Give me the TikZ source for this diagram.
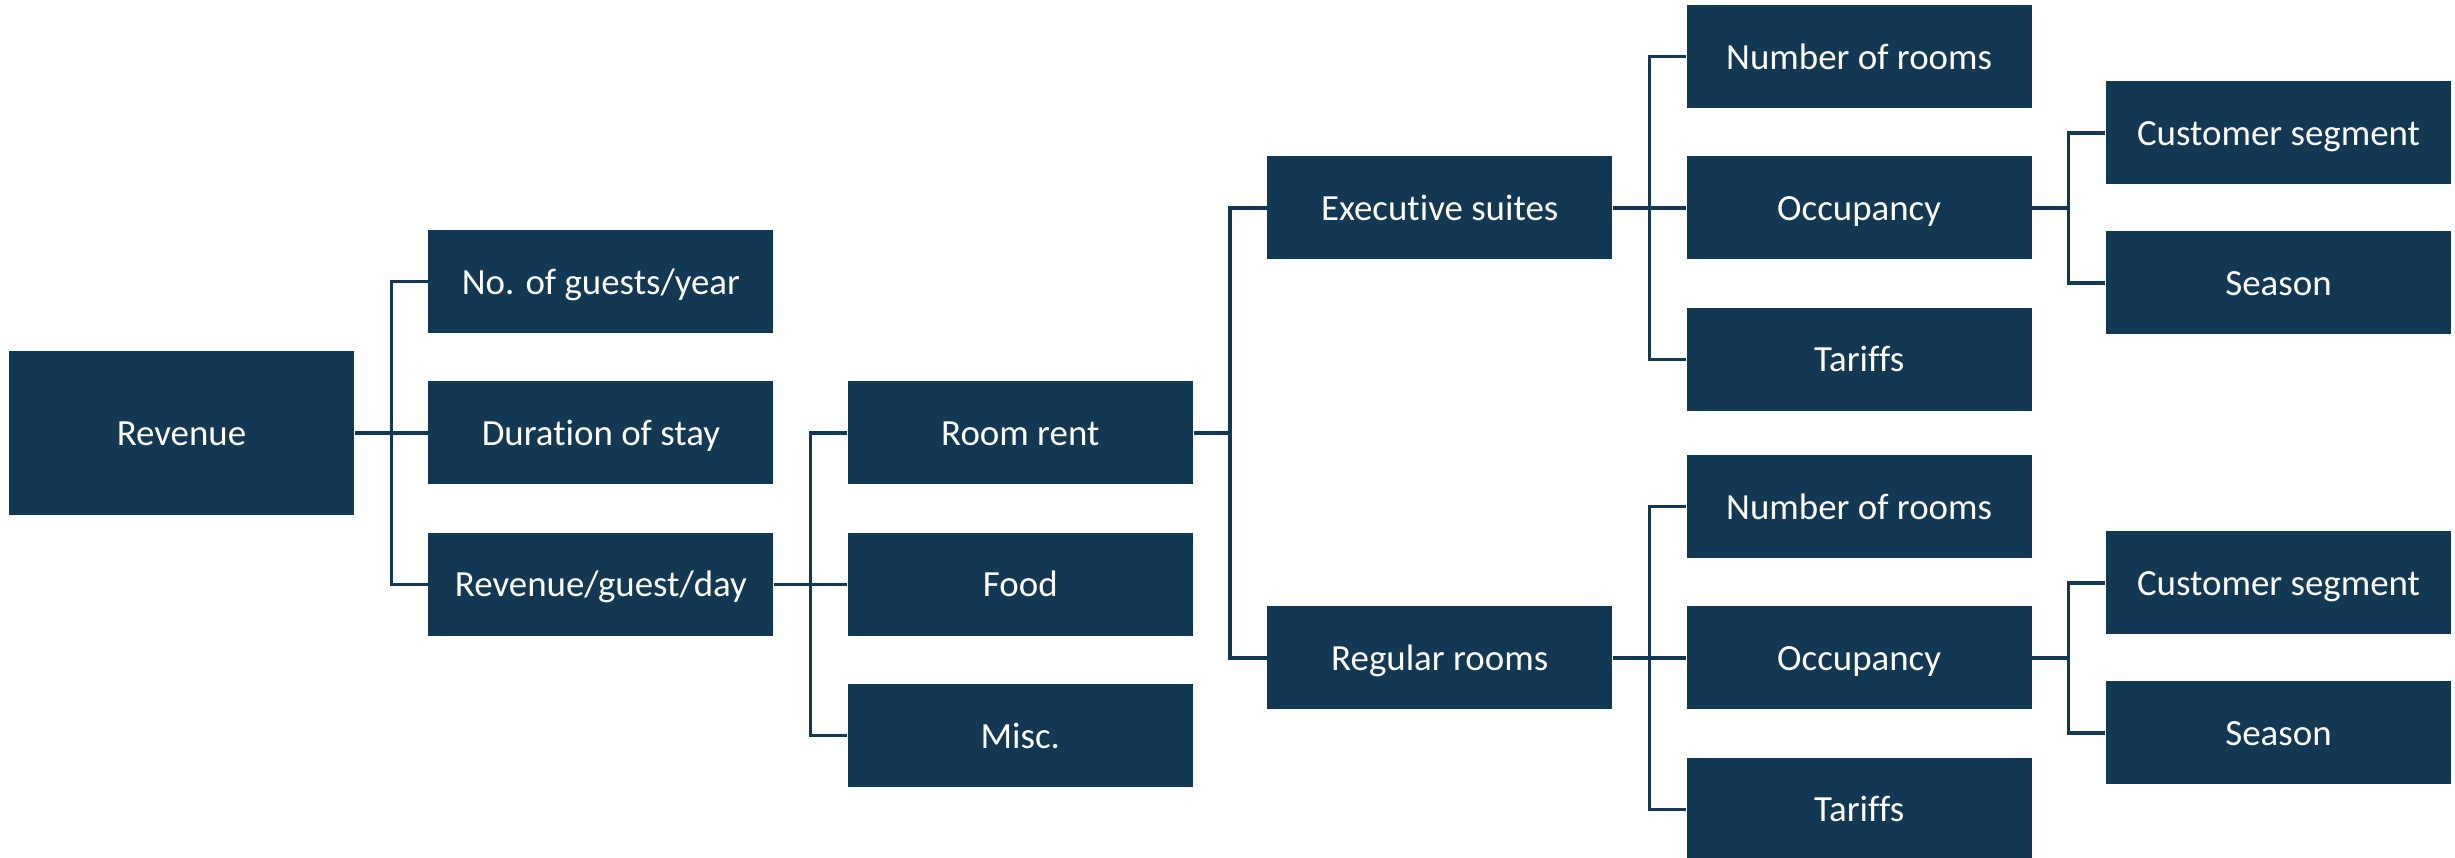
\documentclass[tikz,border=0pt]{standalone}
\usepackage{fontspec}
\setmainfont{Carlito}[Ligatures=NoCommon]
\usepackage{xcolor}
\usetikzlibrary{positioning}
\definecolor{navy}{RGB}{19,56,84}

\begin{document}
\begin{tikzpicture}[node distance=0.47cm and 0.73cm]
\tikzstyle{treebox} = [rectangle, fill=navy, text=white, minimum width=3.45cm, minimum height=1.03cm, inner sep=0pt, text height=1.75ex, text depth=0.25ex, font=\fontsize{10.5}{12}\selectfont]
\tikzstyle{elbow} = [draw=navy, line width=0.9pt]
\useasboundingbox (0,0) rectangle (24.55,-8.58);
\node (revenue) [treebox, minimum height=1.64cm] at (1.815,-4.33) {Revenue};
\node (duration) [treebox, right = of revenue] {Duration of stay};
\node (guests) [treebox, above = of duration] {No. of guests/year};
\node (rgd) [treebox, below = of duration] {Revenue/guest/day};
\node (food) [treebox, right = of rgd] {Food};
\node (rent) [treebox, above = of food] {Room rent};
\node (misc) [treebox, below = of food] {Misc.};
\node (exec) [treebox, right = of rent, yshift=2.25cm] {Executive suites};
\node (regular) [treebox, right = of rent, yshift=-2.25cm] {Regular rooms};
\node (occexec) [treebox, right = of exec] {Occupancy};
\node (numexec) [treebox, above = of occexec] {Number of rooms};
\node (tarexec) [treebox, below = of occexec] {Tariffs};
\node (occreg) [treebox, right = of regular] {Occupancy};
\node (numreg) [treebox, above = of occreg] {Number of rooms};
\node (tarreg) [treebox, below = of occreg] {Tariffs};
\node (segexec) [treebox, right = of occexec, yshift=0.75cm] {Customer segment};
\node (seasexec) [treebox, right = of occexec, yshift=-0.75cm] {Season};
\node (segreg) [treebox, right = of occreg, yshift=0.75cm] {Customer segment};
\node (seasreg) [treebox, right = of occreg, yshift=-0.75cm] {Season};
% elbow connectors
\draw [elbow] (revenue.east) -- ++(0.365,0) coordinate (busrev);
\foreach \child in {guests,duration,rgd} \draw [elbow] (busrev) |- (\child.west);
\draw [elbow] (rgd.east) -- ++(0.365,0) coordinate (busrgd);
\foreach \child in {rent,food,misc} \draw [elbow] (busrgd) |- (\child.west);
\draw [elbow] (rent.east) -- ++(0.365,0) coordinate (busrent);
\foreach \child in {exec,regular} \draw [elbow] (busrent) |- (\child.west);
\draw [elbow] (exec.east) -- ++(0.365,0) coordinate (busexec);
\foreach \child in {numexec,occexec,tarexec} \draw [elbow] (busexec) |- (\child.west);
\draw [elbow] (regular.east) -- ++(0.365,0) coordinate (busreg);
\foreach \child in {numreg,occreg,tarreg} \draw [elbow] (busreg) |- (\child.west);
\draw [elbow] (occexec.east) -- ++(0.365,0) coordinate (busoccexec);
\foreach \child in {segexec,seasexec} \draw [elbow] (busoccexec) |- (\child.west);
\draw [elbow] (occreg.east) -- ++(0.365,0) coordinate (busoccreg);
\foreach \child in {segreg,seasreg} \draw [elbow] (busoccreg) |- (\child.west);
\end{tikzpicture}
\end{document}
